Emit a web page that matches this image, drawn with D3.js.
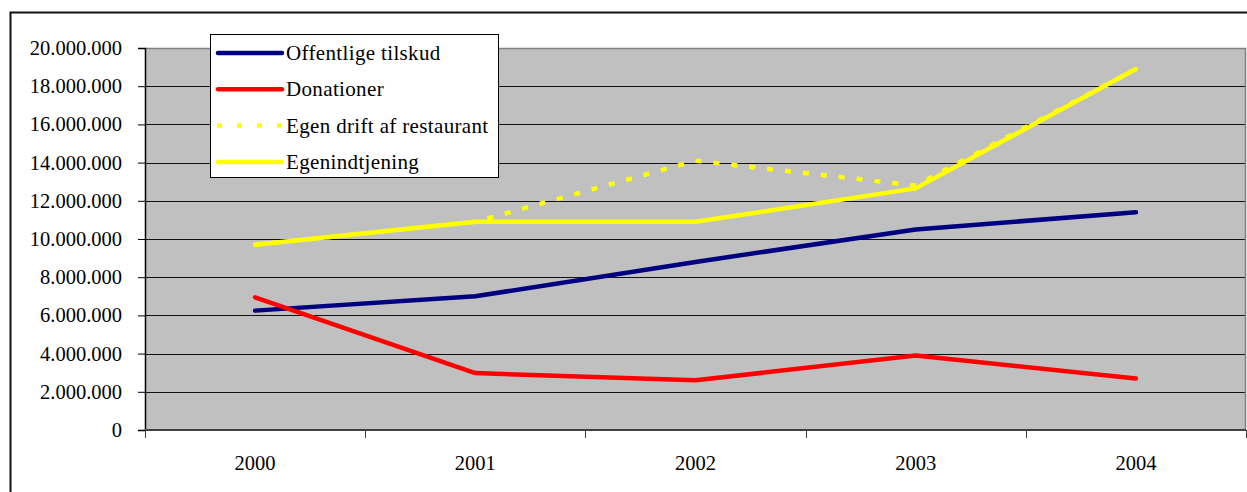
<!DOCTYPE html>
<html>
<head>
<meta charset="utf-8">
<script src="https://cdn.jsdelivr.net/npm/d3@7"></script>
<style>
  body { margin: 0; background: #fff; }
</style>
</head>
<body>
<div id="chart"></div>
<script>
// data
var years          = ['2000', '2001', '2002', '2003', '2004']
var offentlige     = [6250000, 7000000, 8800000, 10500000, 11400000]
var donationer     = [6950000, 2980000, 2600000, 3900000, 2700000]
var egenDrift      = [9700000, 10900000, 14100000, 12800000, 18900000]
var egenindtjening = [9700000, 10900000, 10900000, 12650000, 18900000]
var yTicks         = [0, 2000000, 4000000, 6000000, 8000000, 10000000, 12000000, 14000000, 16000000, 18000000, 20000000]
var seriesNames    = ['Offentlige tilskud', 'Donationer', 'Egen drift af restaurant', 'Egenindtjening']

var width  = 1247
var height = 492
var plot   = {left: 145, top: 48, right: 1246, bottom: 430}
var serif  = '"Liberation Serif"'

var locale = d3.formatLocale({decimal: ',', thousands: '.', grouping: [3], currency: ['', '']})
var fmt    = locale.format(',d')

var series = [
    {name: seriesNames[0], values: offentlige,     color: '#000080', dash: null},
    {name: seriesNames[1], values: donationer,     color: '#ff0000', dash: null},
    {name: seriesNames[2], values: egenDrift,      color: '#ffff00', dash: '6,12'},
    {name: seriesNames[3], values: egenindtjening, color: '#ffff00', dash: null}
]

var svg = d3.select('#chart').append('svg')
    .attr('width',  width)
    .attr('height', height)
    .style('font-family', serif)

// outer chart frame (runs off the bottom/right of the picture)
svg.append('rect')
    .attr('x', 10.5).attr('y', 12.5)
    .attr('width', 1300).attr('height', 600)
    .attr('fill', '#fff')
    .attr('stroke', '#111').attr('stroke-width', 2)

var x = d3.scaleBand().domain(years).range([plot.left, plot.right])
var y = d3.scaleLinear().domain([0, 20000000]).range([plot.bottom, plot.top])

// plot area
svg.append('rect')
    .attr('x', plot.left).attr('y', plot.top)
    .attr('width', plot.right - plot.left).attr('height', plot.bottom - plot.top)
    .attr('fill', '#c0c0c0')

// gridlines
svg.append('g').selectAll('line').data(yTicks.slice(1, -1))
    .join('line')
    .attr('x1', plot.left).attr('x2', plot.right)
    .attr('y1', d => Math.round(y(d)) + 0.5).attr('y2', d => Math.round(y(d)) + 0.5)
    .attr('stroke', '#111').attr('stroke-width', 1)

// plot border top & right
svg.append('path')
    .attr('d', `M${plot.left},${plot.top + 0.5}H${plot.right - 0.5}V${plot.bottom}`)
    .attr('fill', 'none').attr('stroke', '#808080').attr('stroke-width', 1.5)

// y axis
var yAxis = svg.append('g')
    .attr('transform', `translate(${plot.left},0)`)
    .call(d3.axisLeft(y).tickValues(yTicks).tickFormat(fmt).tickSize(7).tickPadding(16))
yAxis.attr('font-family', null).attr('font-size', null)
yAxis.select('.domain').attr('stroke', '#000').attr('stroke-width', 1.5)
yAxis.selectAll('.tick line').attr('stroke', '#000')
yAxis.selectAll('.tick text')
    .style('font-family', serif)
    .style('font-size', '20.5px')
    .attr('fill', '#000')

// x axis: ticks at category boundaries
var xAxis = svg.append('g')
    .attr('transform', `translate(0,${plot.bottom})`)
xAxis.append('line')
    .attr('x1', plot.left).attr('x2', plot.right)
    .attr('stroke', '#404040').attr('stroke-width', 2)
var bounds = years.map(d => x(d)).concat([plot.right])
xAxis.selectAll('.xtick').data(bounds)
    .join('line').attr('class', 'xtick')
    .attr('x1', d => Math.round(d) + 0.5).attr('x2', d => Math.round(d) + 0.5)
    .attr('y1', 0).attr('y2', 8)
    .attr('stroke', '#404040').attr('stroke-width', 1)
xAxis.selectAll('.xlabel').data(years)
    .join('text').attr('class', 'xlabel')
    .attr('x', d => x(d) + x.bandwidth() / 2)
    .attr('y', 40)
    .attr('text-anchor', 'middle')
    .style('font-family', serif)
    .style('font-size', '20.5px')
    .text(d => d)

// lines
var line = d3.line()
    .x((d, i) => x(years[i]) + x.bandwidth() / 2)
    .y(d => y(d))

svg.append('g').selectAll('path').data(series)
    .join('path')
    .attr('d', d => line(d.values))
    .attr('fill', 'none')
    .attr('stroke', d => d.color)
    .attr('stroke-width', 4.5)
    .attr('stroke-linecap', d => d.dash ? 'butt' : 'round')
    .attr('stroke-linejoin', 'round')
    .attr('stroke-dasharray', d => d.dash)

// legend
var legend = svg.append('g').attr('transform', 'translate(210,34)')
legend.append('rect')
    .attr('x', 0.5).attr('y', 0.5)
    .attr('width', 288).attr('height', 143)
    .attr('fill', '#fff').attr('stroke', '#000').attr('stroke-width', 1)
var item = legend.selectAll('.item').data(series)
    .join('g').attr('class', 'item')
    .attr('transform', (d, i) => `translate(0,${19 + i * 36.3})`)
item.append('line')
    .attr('x1', d => d.dash ? 7 : 8).attr('x2', 72)
    .attr('stroke', d => d.color)
    .attr('stroke-width', 4.5)
    .attr('stroke-linecap', d => d.dash ? 'butt' : 'round')
    .attr('stroke-dasharray', d => d.dash ? '5,15' : null)
item.append('text')
    .attr('x', 76).attr('y', 7)
    .style('font-family', serif)
    .style('font-size', '21px')
    .style('letter-spacing', '0.35px')
    .text(d => d.name)
</script>
</body>
</html>
